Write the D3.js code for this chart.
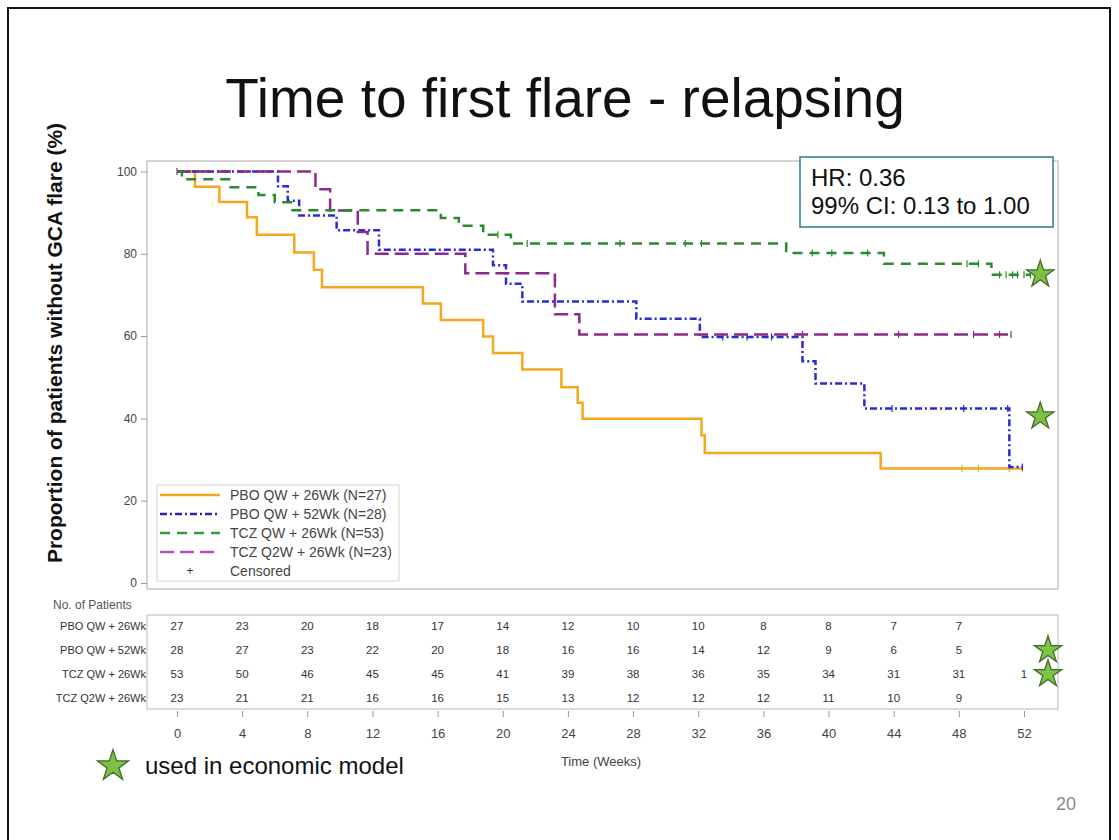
<!DOCTYPE html>
<meta charset="utf-8">
<style>
body { margin: 0; background: #fff; }
svg { display: block; font-family: "Liberation Sans", Arial, sans-serif; }
</style>
<svg width="1119" height="840"></svg>
<script src="https://cdn.jsdelivr.net/npm/d3@7"></script>
<script>

// ---- data ----
var seriesNames = ["PBO QW + 26Wk (N=27)", "PBO QW + 52Wk (N=28)", "TCZ QW + 26Wk (N=53)", "TCZ Q2W + 26Wk (N=23)"];
var rowNames = ["PBO QW + 26Wk", "PBO QW + 52Wk", "TCZ QW + 26Wk", "TCZ Q2W + 26Wk"];

// step times (weeks) and survival (%) after each step
var pbo26Times = [0, 1.1, 2.6, 4.3, 4.9, 7.2, 8.4, 8.9, 15.1, 16.2, 18.8, 19.4, 21.2, 23.6, 24.6, 24.9, 32.2, 32.4, 43.2, 51.9];
var pbo26Surv  = [100, 96.3, 92.6, 88.9, 84.6, 80.3, 76.1, 71.9, 67.9, 63.9, 59.9, 55.9, 51.9, 47.6, 43.8, 39.9, 35.9, 31.6, 27.8, 27.8];
var pbo26Cens  = [48.2, 49.2, 51.1, 51.9];

var pbo52Times = [0, 6.2, 6.8, 7.5, 9.8, 12.4, 19.4, 20.2, 21.2, 28.2, 32.1, 38.4, 39.2, 42.2, 51.1, 51.9];
var pbo52Surv  = [100, 96.4, 92.9, 89.3, 85.7, 81.0, 77.2, 72.7, 68.4, 64.2, 59.8, 53.9, 48.5, 42.4, 28.2, 28.2];
var pbo52Cens  = [33.5, 35, 36.5, 43.9, 48.3, 51.0, 51.9];

var tczQWTimes = [0, 0.3, 3.2, 5.0, 6.0, 7.0, 16.2, 17.3, 18.8, 20.5, 37.4, 43.4, 50.0, 52.4];
var tczQWSurv  = [100, 98.1, 96.2, 94.3, 92.5, 90.6, 88.7, 86.8, 84.6, 82.5, 80.2, 77.6, 74.9, 74.9];
var tczQWCens  = [19.7, 21.5, 27.2, 31.2, 32.2, 39.0, 40.2, 42.4, 48.5, 49.2, 50.5, 50.9, 51.3, 51.6, 52.0, 52.4];

var tczQ2WTimes = [0, 8.5, 9.4, 11.1, 11.7, 17.7, 23.2, 24.7, 51.2];
var tczQ2WSurv  = [100, 95.7, 90.5, 85.3, 80.0, 75.3, 65.3, 60.4, 60.4];
var tczQ2WCens  = [0, 38.4, 44.3, 48.9, 50.5, 51.2];

// numbers at risk
var weeks = [0, 4, 8, 12, 16, 20, 24, 28, 32, 36, 40, 44, 48, 52];
var riskPbo26  = [27, 23, 20, 18, 17, 14, 12, 10, 10, 8, 8, 7, 7, null];
var riskPbo52  = [28, 27, 23, 22, 20, 18, 16, 16, 14, 12, 9, 6, 5, null];
var riskTczQW  = [53, 50, 46, 45, 45, 41, 39, 38, 36, 35, 34, 31, 31, 1];
var riskTczQ2W = [23, 21, 21, 16, 16, 15, 13, 12, 12, 12, 11, 10, 9, null];

var yTicks = [0, 20, 40, 60, 80, 100];

// stars marking curves used in the economic model: [week, %]
var curveStars = [[53.0, 75], [53.0, 40.5]];
var tableStars = [1, 2];   // at-risk rows

var colors = ["#f4a81d", "#2a2ad6", "#2b8a2b", "#8a2a8a"];
var legendColors = ["#f4a81d", "#2a2a9e", "#3a9a3a", "#b24bb2"];
var dashes = [null, "7,3,2,3", "10,7", "14,6"];

var series = [
  {t: pbo26Times, s: pbo26Surv, c: pbo26Cens},
  {t: pbo52Times, s: pbo52Surv, c: pbo52Cens},
  {t: tczQWTimes, s: tczQWSurv, c: tczQWCens},
  {t: tczQ2WTimes, s: tczQ2WSurv, c: tczQ2WCens}
];
var risk = [riskPbo26, riskPbo52, riskTczQW, riskTczQ2W];

var svg = d3.select("svg");

// slide border
svg.append("rect").attr("x", 8).attr("y", 8).attr("width", 1102).attr("height", 850)
  .attr("fill", "none").attr("stroke", "#111").attr("stroke-width", 2);

svg.append("text").attr("x", 565).attr("y", 117).attr("text-anchor", "middle")
  .attr("font-size", 55).attr("fill", "#111").text("Time to first flare - relapsing");

var x = d3.scaleLinear().domain([0, 52]).range([177, 1024]);
var y = d3.scaleLinear().domain([0, 100]).range([583, 171.5]);

// plot frame
svg.append("rect").attr("x", 147).attr("y", 161).attr("width", 911).attr("height", 428)
  .attr("fill", "none").attr("stroke", "#c8c8c8").attr("stroke-width", 1.5);

var yAxis = svg.append("g").attr("transform", "translate(147,0)")
  .call(d3.axisLeft(y).tickValues(yTicks).tickSize(6).tickPadding(4));
yAxis.select(".domain").remove();
yAxis.selectAll("line").attr("stroke", "#999");
yAxis.selectAll("text").attr("font-size", 12).attr("fill", "#444")
  .attr("font-family", "Liberation Sans, Arial, sans-serif");

svg.append("text").attr("transform", "translate(62,343) rotate(-90)")
  .attr("text-anchor", "middle").attr("font-size", 21).attr("font-weight", "bold")
  .attr("fill", "#111").text("Proportion of patients without GCA flare (%)");

var line = d3.line().x(d => x(d[0])).y(d => y(d[1])).curve(d3.curveStepAfter);

function survAt(sr, t) {
  var i = d3.bisectRight(sr.t, t) - 1;
  return sr.s[Math.max(0, i)];
}

var order = [0, 1, 3, 2];
order.forEach(function (k) {
  var sr = series[k];
  var pts = sr.t.map((t, i) => [t, sr.s[i]]);
  svg.append("path").attr("d", line(pts)).attr("fill", "none")
    .attr("stroke", colors[k]).attr("stroke-width", 2.5)
    .attr("stroke-dasharray", dashes[k]);
  svg.append("g").selectAll("line").data(sr.c).enter().append("line")
    .attr("x1", t => x(t)).attr("x2", t => x(t))
    .attr("y1", t => y(survAt(sr, t)) - 3.5).attr("y2", t => y(survAt(sr, t)) + 3.5)
    .attr("stroke", colors[k]).attr("stroke-width", 1.2);
});

// legend inside plot
var lg = svg.append("g");
lg.append("rect").attr("x", 157).attr("y", 485).attr("width", 242).attr("height", 96)
  .attr("fill", "#fff").attr("stroke", "#d4d4d4");
var legendRows = [495, 514, 533, 552];
seriesNames.forEach(function (name, k) {
  lg.append("line").attr("x1", 160).attr("x2", 220)
    .attr("y1", legendRows[k]).attr("y2", legendRows[k])
    .attr("stroke", legendColors[k]).attr("stroke-width", 2.5)
    .attr("stroke-dasharray", dashes[k]);
  lg.append("text").attr("x", 230).attr("y", legendRows[k] + 5)
    .attr("font-size", 14).attr("fill", "#444").text(name);
});
lg.append("text").attr("x", 190).attr("y", 575).attr("text-anchor", "middle")
  .attr("font-size", 12).attr("fill", "#333").text("+");
lg.append("text").attr("x", 230).attr("y", 576).attr("font-size", 14).attr("fill", "#444").text("Censored");

// HR box
svg.append("rect").attr("x", 800).attr("y", 157).attr("width", 253).attr("height", 70)
  .attr("fill", "#fff").attr("stroke", "#31788a").attr("stroke-width", 1.5);
svg.append("text").attr("x", 811).attr("y", 186).attr("font-size", 24).attr("fill", "#111").text("HR: 0.36");
svg.append("text").attr("x", 811).attr("y", 214).attr("font-size", 24).attr("fill", "#111").text("99% CI: 0.13 to 1.00");

// star shape
function drawStar(cx, cy, sz) {
  svg.append("path").attr("d", d3.symbol().type(d3.symbolStar).size(sz)())
    .attr("transform", "translate(" + cx + "," + cy + ")")
    .attr("fill", "#7cc143").attr("stroke", "#3e6b2a").attr("stroke-width", 1.3);
}
curveStars.forEach(d => drawStar(x(d[0]), y(d[1]), 230));

// numbers at risk table
svg.append("text").attr("x", 53).attr("y", 609).attr("font-size", 12).attr("fill", "#555").text("No. of Patients");
svg.append("rect").attr("x", 147).attr("y", 615).attr("width", 911).attr("height", 94)
  .attr("fill", "none").attr("stroke", "#d0d0d0").attr("stroke-width", 1.5);
var rowY = [626, 650, 674, 698];
rowNames.forEach(function (name, k) {
  svg.append("text").attr("x", 146).attr("y", rowY[k] + 4).attr("text-anchor", "end")
    .attr("font-size", 11).attr("fill", "#333").text(name);
  svg.append("g").selectAll("text").data(weeks.map((w, i) => [w, risk[k][i]]).filter(d => d[1] != null))
    .enter().append("text").attr("x", d => x(d[0])).attr("y", rowY[k] + 4)
    .attr("text-anchor", "middle").attr("font-size", 11.5).attr("fill", "#333")
    .text(d => d[1]);
});
tableStars.forEach(k => drawStar(1048, rowY[k], 230));

var xAxis = svg.append("g").attr("transform", "translate(0,711)")
  .call(d3.axisBottom(x).tickValues(weeks).tickSize(6).tickPadding(12));
xAxis.select(".domain").remove();
xAxis.selectAll("line").attr("stroke", "#999");
xAxis.selectAll("text").attr("font-size", 13).attr("fill", "#444")
  .attr("font-family", "Liberation Sans, Arial, sans-serif");

svg.append("text").attr("x", 601).attr("y", 766).attr("text-anchor", "middle")
  .attr("font-size", 13).attr("fill", "#444").text("Time (Weeks)");

// star legend
drawStar(113, 766, 300);
svg.append("text").attr("x", 145).attr("y", 774).attr("font-size", 24).attr("fill", "#111").text("used in economic model");

svg.append("text").attr("x", 1066).attr("y", 810).attr("text-anchor", "middle")
  .attr("font-size", 18).attr("fill", "#888").text("20");

</script>
